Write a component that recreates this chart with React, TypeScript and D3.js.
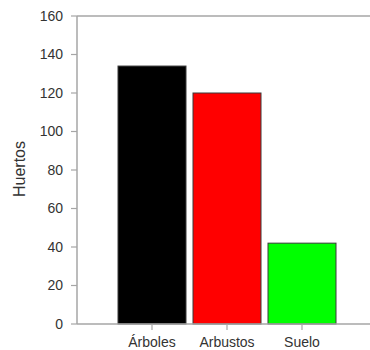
import React from "react";
import * as d3 from "d3";

const categories = ["Árboles", "Arbustos", "Suelo"];
const values = [134, 120, 42];
const barColors = ["#000000", "#ff0000", "#00ff00"];
const yTicks = [0, 20, 40, 60, 80, 100, 120, 140, 160];
const yTitle = "Huertos";

export default function App() {
  const W = 370, H = 350;
  const left = 77, right = 377, top = 16, bottom = 324;
  const y = d3.scaleLinear().domain([0, 160]).range([bottom, top]);
  const x = d3.scaleLinear().domain([0, 4]).range([left, right]);
  const barW = 68;
  const axisColor = "#a6a6a6";
  const textColor = "#333333";
  const font = "'Liberation Sans', Arial, sans-serif";

  return (
    <svg width={W} height={H} style={{ position: "absolute", left: 0, top: 0, background: "#fff" }}>
      {categories.map((c, i) => (
        <rect
          key={c}
          x={x(i + 1) - barW / 2}
          y={y(values[i])}
          width={barW}
          height={y(0) - y(values[i])}
          fill={barColors[i]}
          stroke="#3a3a3a"
          strokeWidth={1}
        />
      ))}
      {/* axes */}
      <line x1={left} x2={right} y1={top} y2={top} stroke={axisColor} strokeWidth={1.5} />
      <line x1={left} x2={right} y1={bottom} y2={bottom} stroke={axisColor} strokeWidth={1.5} />
      <line x1={left} x2={left} y1={top} y2={bottom} stroke={axisColor} strokeWidth={1.5} />
      {yTicks.map((t) => (
        <g key={t}>
          <line x1={left - 6} x2={left} y1={y(t)} y2={y(t)} stroke={axisColor} strokeWidth={1.2} />
          <text
            x={63}
            y={y(t)}
            dy="0.35em"
            textAnchor="end"
            fontFamily={font}
            fontSize={14}
            fill={textColor}
          >
            {t}
          </text>
        </g>
      ))}
      {categories.map((c, i) => (
        <g key={c}>
          <line x1={x(i + 1)} x2={x(i + 1)} y1={bottom} y2={bottom + 6} stroke={axisColor} strokeWidth={1.2} />
          <text
            x={x(i + 1)}
            y={347}
            textAnchor="middle"
            fontFamily={font}
            fontSize={14}
            fill={textColor}
          >
            {c}
          </text>
        </g>
      ))}
      <text
        transform={`translate(25,169) rotate(-90)`}
        textAnchor="middle"
        fontFamily={font}
        fontSize={16}
        fill={textColor}
      >
        {yTitle}
      </text>
    </svg>
  );
}
